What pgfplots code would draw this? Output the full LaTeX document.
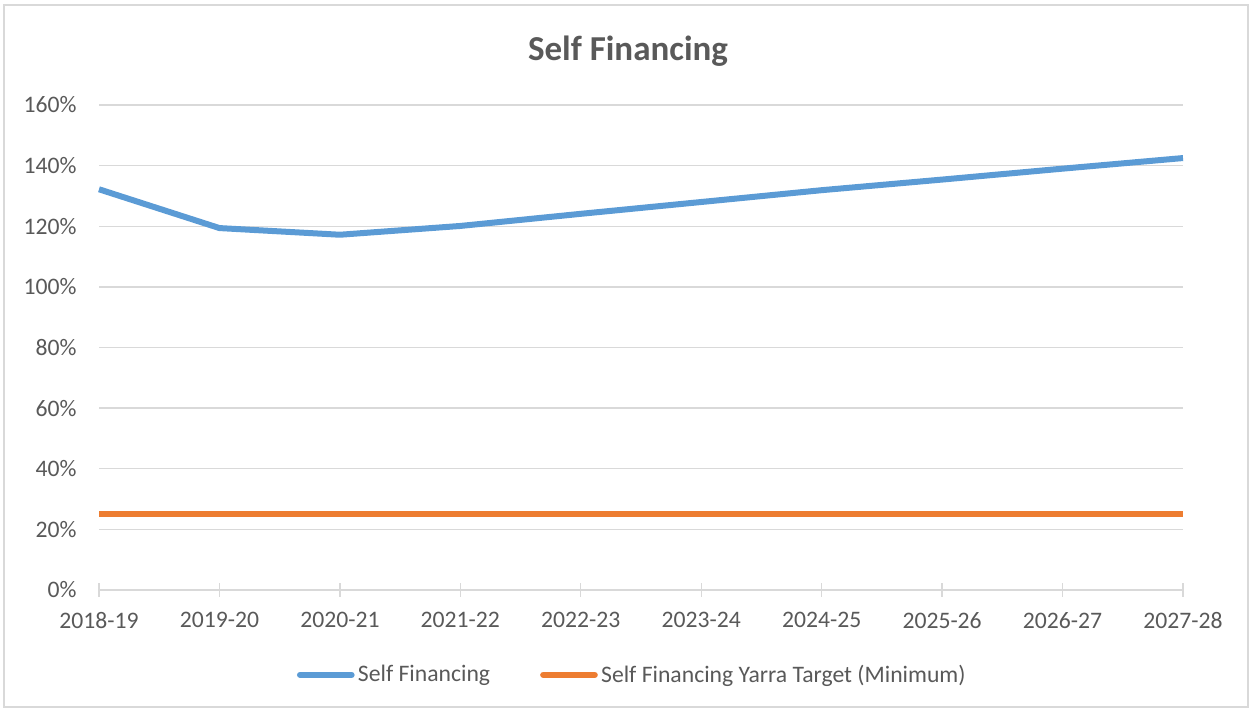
\documentclass[border=0pt]{standalone}
\usepackage{fontspec}
\setmainfont{Carlito}
\usepackage{pgfplots}
\pgfplotsset{compat=1.18}
\definecolor{Cblue}{HTML}{5B9BD5}
\definecolor{Corange}{HTML}{ED7D31}
\definecolor{Ctext}{HTML}{595959}
\definecolor{Cgrid}{HTML}{D9D9D9}

\begin{document}
\begin{tikzpicture}[x=1pt,y=1pt]
% picture frame: 1252x711 px at 0.6pt per px
\useasboundingbox (0,0) rectangle (751.2,426.6);
\draw[Cgrid, line width=0.9pt] (2.4,2.4) rectangle (748.8,423.6);
\node[font=\fontsize{21}{24}\selectfont\bfseries, text=Ctext] at (376.8,396.0) {Self Financing};
\begin{axis}[
  at={(59.4pt,72.6pt)}, anchor=south west,
  width=650.4pt, height=291pt, scale only axis,
  xmin=0, xmax=9, ymin=0, ymax=160,
  xtick={0,...,9},
  xticklabels={2018-19,2019-20,2020-21,2021-22,2022-23,2023-24,2024-25,2025-26,2026-27,2027-28},
  ytick={0,20,...,160},
  yticklabel={\pgfmathprintnumber{\tick}\%},
  /pgf/number format/assume math mode=true,
  ticklabel style={font=\fontsize{14.2}{16}\selectfont, text=Ctext},
  ymajorgrids=true,
  grid style={Cgrid, line width=0.8pt},
  axis x line*=bottom, axis y line*=left,
  y axis line style={draw=none},
  x axis line style={Cgrid, line width=0.8pt, -},
  xtick style={Cgrid, line width=0.8pt},
  major tick length=8pt, tick align=center,
  ytick style={draw=none},
  yticklabel style={xshift=-6pt},
  xticklabel style={yshift=-6pt},
  clip=false,
  legend columns=2,
  legend style={at={(0.4926,-0.175)}, anchor=center, draw=none, fill=none,
    font=\fontsize{14.2}{16}\selectfont, text=Ctext,
    /tikz/every even column/.append style={column sep=28pt}},
  legend image code/.code={\draw[#1, line cap=round] (0pt,0pt) -- (31pt,0pt);},
]
\addplot[Cblue, line width=3.6pt, line join=round] coordinates {
  (0,132.2) (1,119.4) (2,117.2) (3,120.1) (4,124.1)
  (5,128.0) (6,131.9) (7,135.4) (8,139.0) (9,142.5)
};
\addlegendentry{Self Financing}
\addplot[Corange, line width=3.6pt] coordinates {
  (0,25) (1,25) (2,25) (3,25) (4,25)
  (5,25) (6,25) (7,25) (8,25) (9,25)
};
\addlegendentry{Self Financing Yarra Target (Minimum)}
\end{axis}
\end{tikzpicture}
\end{document}
